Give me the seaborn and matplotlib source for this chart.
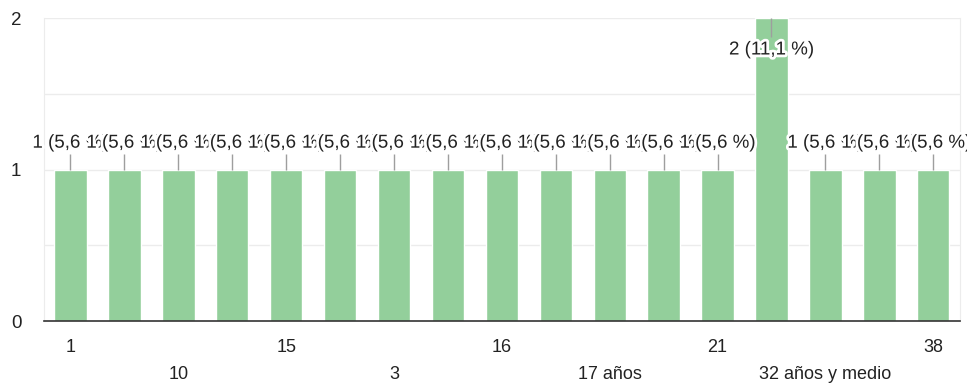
import matplotlib
matplotlib.use("Agg")
import matplotlib.pyplot as plt
import matplotlib.patheffects as pe
import seaborn as sns
import pandas as pd

# Categories (only every other label is visible in the original chart)
categories = ["1", "5", "10", "12", "15", "2", "3", "14", "16", "17",
              "17 años", "20", "21", "25", "32 años y medio", "35", "38"]
counts = [1, 1, 1, 1, 1, 1, 1, 1, 1, 1, 1, 1, 1, 2, 1, 1, 1]

df = pd.DataFrame({"cat": categories, "n": counts})
total = sum(counts)

sns.set_style("white")
plt.rcParams["font.family"] = ["Liberation Sans", "DejaVu Sans"]

fig, ax = plt.subplots(figsize=(9.67, 3.87), dpi=100)
fig.subplots_adjust(left=0.045, right=0.993, top=0.953, bottom=0.17)

sns.barplot(data=df, x="cat", y="n", order=categories, color="#93cf9b",
            saturation=1, width=0.6, ax=ax, zorder=2)

ax.set_xlim(-0.5, len(categories) - 0.5)
ax.set_ylim(0, 2)
ax.set_yticks([0, 1, 2])
for g in [0.5, 1, 1.5, 2]:
    ax.axhline(g, color="#ececec", lw=1, zorder=0)

# value labels with leader lines
halo = [pe.withStroke(linewidth=4, foreground="white")]
for i, v in enumerate(counts):
    txt = f"{v} ({v / total * 100:.1f} %)".replace(".", ",")
    if v == max(counts):
        ty = v - 0.21
        ax.vlines(i, ty + 0.085, v, color="#9e9e9e", lw=1, zorder=3)
    else:
        ty = v + 0.175
        ax.vlines(i, v, ty - 0.07, color="#9e9e9e", lw=1, zorder=3)
    ax.text(i, ty, txt, ha="center", va="center", fontsize=13.5,
            color="#222222", path_effects=halo, zorder=4)

# x tick labels: every other category, alternating rows
pos = list(range(0, len(categories), 2))
labs = [categories[p] if k % 2 == 0 else "\n" + categories[p]
        for k, p in enumerate(pos)]
ax.set_xticks(pos)
ax.set_xticklabels(labs, fontsize=13, color="#222222", linespacing=1.75)
ax.tick_params(axis="x", length=0, pad=13)
ax.tick_params(axis="y", length=0, pad=16, labelsize=13.5, labelcolor="#222222")
ax.set_xlabel("")
ax.set_ylabel("")

ax.spines["top"].set_visible(False)
ax.spines["left"].set_color("#ececec")
ax.spines["right"].set_color("#ececec")
ax.spines["bottom"].set_color("#333333")
ax.spines["bottom"].set_linewidth(1.2)

fig.savefig("out.png", dpi=100)
